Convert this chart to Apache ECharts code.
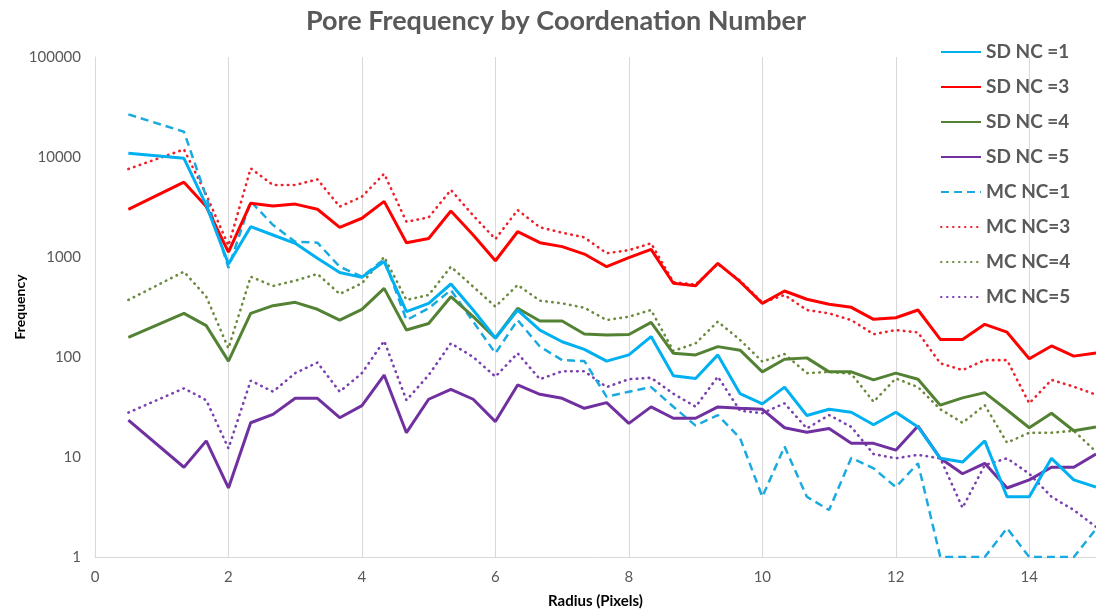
<!DOCTYPE html>
<html>
<head>
<meta charset="utf-8">
<script src="https://cdn.jsdelivr.net/npm/echarts@6/dist/echarts.min.js"></script>
<style>
html,body{margin:0;padding:0;background:#fff;}
#chart{width:1096px;height:613px;}
</style>
</head>
<body>
<div id="chart"></div>
<script>
const radius = [0.5, 1.333, 1.667, 2, 2.333, 2.667, 3, 3.333, 3.667, 4, 4.333, 4.667, 5, 5.333, 5.667, 6, 6.333, 6.667, 7, 7.333, 7.667, 8, 8.333, 8.667, 9, 9.333, 9.667, 10, 10.333, 10.667, 11, 11.333, 11.667, 12, 12.333, 12.667, 13, 13.333, 13.667, 14, 14.333, 14.667, 15];

const sdNC1 = [10900, 9700, 3300, 850, 2010, 1660, 1370, 970, 700, 626, 900, 284, 344, 537, 295, 155, 295, 186, 142, 119, 91, 105, 160, 65, 61, 105, 43, 34, 50, 26, 30, 28, 21, 28, 20, 9.7, 8.9, 14.5, 4, 4, 9.7, 5.9, 5];
const sdNC3 = [3000, 5600, 3200, 1120, 3450, 3240, 3380, 3000, 1980, 2440, 3600, 1390, 1530, 2880, 1660, 918, 1790, 1390, 1270, 1070, 800, 985, 1190, 546, 517, 865, 566, 344, 457, 378, 337, 314, 238, 247, 295, 150, 150, 212, 177, 96, 129, 102, 110];
const sdNC4 = [157, 273, 206, 91, 273, 326, 352, 300, 234, 300, 486, 186, 216, 401, 253, 154, 307, 229, 229, 170, 166, 168, 222, 109, 105, 127, 117, 71, 95, 98, 71, 71, 59, 69, 60, 33, 39, 44, 29.5, 19.6, 27.4, 18.3, 20];
const sdNC5 = [23.4, 7.9, 14.5, 4.9, 22, 26.7, 38.6, 38.6, 24.7, 32.6, 66, 17.5, 37.8, 47.5, 37.8, 22.6, 52.5, 42.4, 38.6, 30.7, 35, 21.7, 31.7, 24.4, 24.4, 31.7, 30.7, 30, 19.6, 17.7, 19.3, 13.7, 13.7, 11.7, 20.4, 9.7, 6.8, 8.65, 4.9, 5.9, 7.9, 7.9, 10.7];
const mcNC1 = [26700, 17900, 4000, 780, 3600, 2090, 1420, 1390, 800, 636, 950, 234, 307, 468, 226, 109, 234, 127, 93, 91, 40, 45, 50, 31.8, 20.6, 26.3, 15.4, 4, 12.7, 4, 2.95, 9.8, 7.7, 5, 8.65, 1, 1, 1, 1.94, 1, 1, 1, 1.9];
const mcNC3 = [7590, 11900, 4200, 1300, 7700, 5250, 5250, 5980, 3190, 4010, 6800, 2250, 2490, 4680, 2600, 1510, 2950, 1980, 1750, 1570, 1090, 1170, 1370, 560, 530, 850, 580, 350, 417, 295, 273, 234, 169, 186, 176, 86.5, 74, 93, 93, 34.4, 59, 50.5, 42];
const mcNC4 = [372, 713, 401, 122, 636, 513, 580, 676, 427, 546, 1000, 372, 417, 800, 505, 319, 525, 366, 344, 311, 234, 253, 295, 115, 137, 226, 148, 90, 107, 69, 71, 68, 35.7, 61, 50, 30, 22, 33, 13.9, 17.5, 17.5, 18.3, 11.3];
const mcNC5 = [27.8, 48.6, 37, 12.2, 58, 45, 69, 88, 45, 69, 145, 37, 66, 137, 100, 63.6, 109, 60, 72, 72, 50, 60, 62, 43, 31.8, 63.6, 29, 27.4, 34.4, 19.3, 26.3, 20, 10.7, 9.7, 10.5, 9.7, 3.1, 8.3, 9.7, 6.8, 4, 2.95, 2];

const seriesNames = ['SD NC =1', 'SD NC =3', 'SD NC =4', 'SD NC =5', 'MC NC=1', 'MC NC=3', 'MC NC=4', 'MC NC=5'];
const seriesValues = [sdNC1, sdNC3, sdNC4, sdNC5, mcNC1, mcNC3, mcNC4, mcNC5];
const yTicks = [1, 10, 100, 1000, 10000, 100000];
const xTicks = [0, 2, 4, 6, 8, 10, 12, 14];

const colors = ['#00B0F0', '#FF0000', '#548235', '#7030A0', '#1AAAE0', '#F0202A', '#6B8A3E', '#7A40B0'];
const styles = [
  {width: 3, type: 'solid'},
  {width: 3, type: 'solid'},
  {width: 3, type: 'solid'},
  {width: 3, type: 'solid'},
  {width: 2.5, type: [8, 5], cap: 'butt'},
  {width: 2.6, type: [0.5, 5.5], cap: 'round'},
  {width: 2.6, type: [0.5, 5.5], cap: 'round'},
  {width: 2.6, type: [0.5, 5.5], cap: 'round'}
];

const FONT = 'Lato, "Open Sans", sans-serif';

const series = seriesNames.map((name, k) => ({
  name: name,
  type: 'line',
  symbol: 'none',
  data: radius.map((r, i) => [r, seriesValues[k][i]]),
  lineStyle: Object.assign({color: colors[k]}, styles[k]),
  itemStyle: {color: colors[k]},
  z: 10 - k,
  animation: false
}));

const chart = echarts.init(document.getElementById('chart'));
chart.setOption({
  animation: false,
  title: {
    text: 'Pore Frequency by Coordenation Number',
    left: 551,
    textAlign: 'center',
    top: 3,
    textStyle: {fontFamily: FONT, fontSize: 27, fontWeight: 'bold', color: '#595959'}
  },
  legend: {
    orient: 'vertical',
    left: 940,
    top: 42,
    padding: 0,
    itemWidth: 40,
    itemHeight: 14,
    itemGap: 15,
    data: seriesNames,
    itemStyle: {opacity: 0},
    textStyle: {fontFamily: FONT, fontSize: 19, fontWeight: 'bold', color: '#595959', lineHeight: 20}
  },
  grid: {left: 95, right: 0, top: 57, bottom: 56, containLabel: false, outerBoundsMode: 'none'},
  xAxis: {
    type: 'value',
    min: 0,
    max: 15,
    interval: 2,
    name: 'Radius (Pixels)',
    nameLocation: 'middle',
    nameGap: 37,
    nameMoveOverlap: false,
    nameTextStyle: {fontFamily: FONT, fontSize: 15, fontWeight: 'bold', color: '#000'},
    axisLine: {show: true, lineStyle: {color: '#D9D9D9', width: 1}},
    axisTick: {show: false},
    axisLabel: {
      fontFamily: FONT, fontSize: 15, color: '#595959', margin: 13,
      formatter: v => (xTicks.indexOf(v) >= 0 ? String(v) : '')
    },
    splitLine: {show: true, lineStyle: {color: '#D9D9D9', width: 1}}
  },
  yAxis: {
    type: 'log',
    logBase: 10,
    min: 1,
    max: 100000,
    name: 'Frequency',
    nameLocation: 'middle',
    nameGap: 68,
    nameMoveOverlap: false,
    nameTextStyle: {fontFamily: FONT, fontSize: 14, fontWeight: 'bold', color: '#000'},
    axisLine: {show: true, lineStyle: {color: '#D9D9D9', width: 1}},
    axisTick: {show: false},
    axisLabel: {
      fontFamily: FONT, fontSize: 15, color: '#595959', margin: 14,
      formatter: v => (yTicks.indexOf(Math.round(v)) >= 0 ? String(Math.round(v)) : '')
    },
    splitLine: {show: false}
  },
  series: series
});
</script>
</body>
</html>
